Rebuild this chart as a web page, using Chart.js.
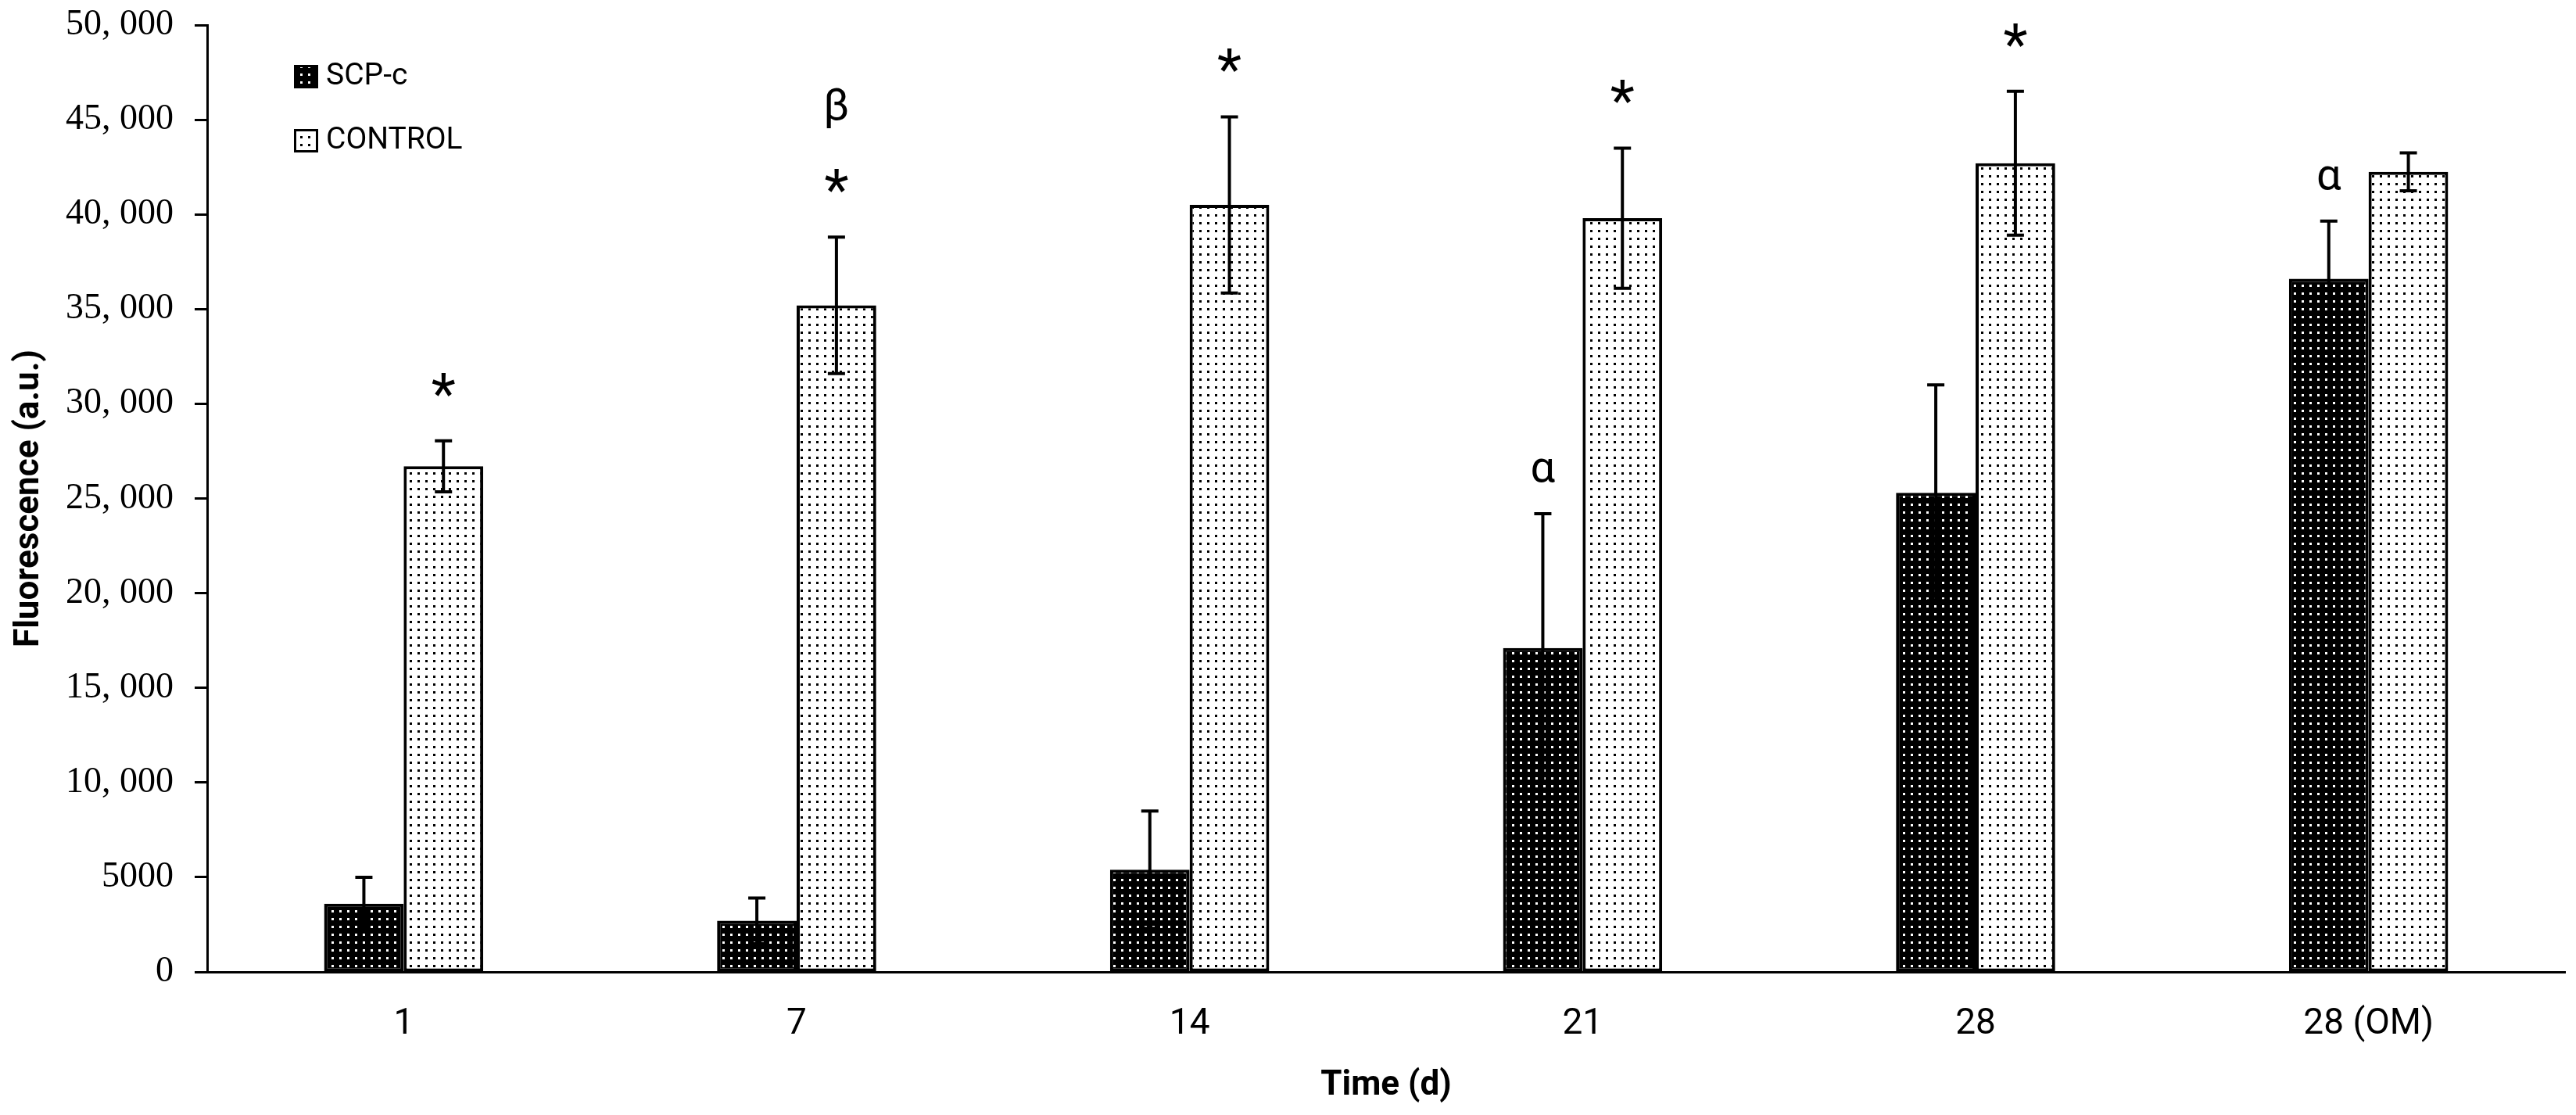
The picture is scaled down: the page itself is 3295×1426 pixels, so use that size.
<!DOCTYPE html>
<html>
<head>
<meta charset="utf-8">
<title>Fluorescence over time</title>
<script src="https://cdn.jsdelivr.net/npm/chart.js@4.4.1/dist/chart.umd.min.js"></script>
<style>
    html, body { margin: 0; padding: 0; background: #fff; }
    #wrap { width: 3295px; height: 1426px; position: relative; }
</style>
</head>
<body>
<div id="wrap"><canvas id="fluoChart"></canvas></div>
<script>
// Data
const categories = ["1", "7", "14", "21", "28", "28 (OM)"];
const scpValues = [3600, 2700, 5400, 17100, 25300, 36600];
const scpErrors = [1400, 1200, 3100, 7100, 5700, 3050];
const controlValues = [26700, 35200, 40500, 39800, 42700, 42250];
const controlErrors = [1350, 3600, 4650, 3700, 3800, 1000];
const yTickLabels = ["0", "5000", "10, 000", "15, 000", "20, 000", "25, 000",
    "30, 000", "35, 000", "40, 000", "45, 000", "50, 000"];

// Significance marks drawn above the bars
const controlStars = ["*", "*", "*", "*", "*", ""];
const controlGreek = ["", "β", "", "", "", ""];
const scpGreek = ["", "", "", "α", "", "α"];

// Dotted fill patterns (dark bars with white dots, light bars with black dots)
function makeDots(bg, dot) {
    const c = document.createElement("canvas");
    c.width = 10;
    c.height = 10;
    const g = c.getContext("2d");
    g.fillStyle = bg;
    g.fillRect(0, 0, 10, 10);
    g.fillStyle = dot;
    g.fillRect(4, 4, 3, 3);
    return document.getElementById("fluoChart").getContext("2d").createPattern(c, "repeat");
}

const scpFill = makeDots("#000", "#fff");
const controlFill = makeDots("#fff", "#000");

// draw a glyph centred on (x, y) using its real ink box
function drawCentered(ctx, text, x, y) {
    const m = ctx.measureText(text);
    const h = m.actualBoundingBoxAscent + m.actualBoundingBoxDescent;
    ctx.textBaseline = "alphabetic";
    ctx.textAlign = "center";
    ctx.fillText(text, x, y + h / 2 - m.actualBoundingBoxDescent);
}

const errorBarPlugin = {
    id: "errorBars",
    afterDatasetsDraw(chart) {
        const ctx = chart.ctx;
        const yScale = chart.scales.y;
        const errs = [scpErrors, controlErrors];
        ctx.save();
        ctx.strokeStyle = "#000";
        ctx.lineWidth = 4;
        chart.data.datasets.forEach((ds, i) => {
            const meta = chart.getDatasetMeta(i);
            meta.data.forEach((bar, j) => {
                const v = ds.data[j];
                const top = yScale.getPixelForValue(v + errs[i][j]);
                const bot = yScale.getPixelForValue(v - errs[i][j]);
                ctx.beginPath();
                ctx.moveTo(bar.x, top);
                ctx.lineTo(bar.x, bot);
                ctx.moveTo(bar.x - 11, top);
                ctx.lineTo(bar.x + 11, top);
                ctx.moveTo(bar.x - 11, bot);
                ctx.lineTo(bar.x + 11, bot);
                ctx.stroke();
            });
        });

        // significance marks
        ctx.fillStyle = "#000";
        const scpMeta = chart.getDatasetMeta(0);
        const ctlMeta = chart.getDatasetMeta(1);
        categories.forEach((cat, j) => {
            const ctlTop = yScale.getPixelForValue(controlValues[j] + controlErrors[j]);
            const starY = ctlTop - 72;
            if (controlStars[j]) {
                ctx.font = "72px Roboto";
                drawCentered(ctx, controlStars[j], ctlMeta.data[j].x, starY);
            }
            if (controlGreek[j]) {
                ctx.font = "56px Roboto";
                drawCentered(ctx, controlGreek[j], ctlMeta.data[j].x, starY - 93);
            }
            if (scpGreek[j]) {
                const scpTop = yScale.getPixelForValue(scpValues[j] + scpErrors[j]);
                ctx.font = "56px Roboto";
                drawCentered(ctx, scpGreek[j], scpMeta.data[j].x, scpTop - 55);
            }
        });
        ctx.restore();
    }
};

// legend sits inside the plot, top left
const legendPlugin = {
    id: "insideLegend",
    afterDraw(chart) {
        const ctx = chart.ctx;
        const area = chart.chartArea;
        const x0 = area.left + 111;
        const rows = [area.top + 51, area.top + 133];
        ctx.save();
        chart.data.datasets.forEach((ds, i) => {
            const y = rows[i];
            ctx.fillStyle = ds.backgroundColor;
            ctx.fillRect(x0, y, 31, 30);
            ctx.strokeStyle = "#000";
            ctx.lineWidth = 3;
            ctx.strokeRect(x0 + 1.5, y + 1.5, 28, 27);
            ctx.fillStyle = "#000";
            ctx.font = "39px Roboto";
            ctx.textAlign = "left";
            ctx.textBaseline = "middle";
            ctx.fillText(ds.label, x0 + 41, y + 15);
        });
        ctx.restore();
    }
};

new Chart(document.getElementById("fluoChart"), {
    type: "bar",
    data: {
        labels: categories,
        datasets: [
            {
                label: "SCP-c",
                data: scpValues,
                backgroundColor: scpFill,
                borderColor: "#000",
                borderWidth: 4,
                borderSkipped: false
            },
            {
                label: "CONTROL",
                data: controlValues,
                backgroundColor: controlFill,
                borderColor: "#000",
                borderWidth: 4,
                borderSkipped: false
            }
        ]
    },
    options: {
        responsive: true,
        maintainAspectRatio: false,
        animation: false,
        devicePixelRatio: 1,
        categoryPercentage: 0.405,
        barPercentage: 1.0,
        layout: { padding: { top: 32, right: 14, left: 0, bottom: 0 } },
        plugins: {
            legend: { display: false },
            tooltip: { enabled: false }
        },
        scales: {
            x: {
                grid: { display: false, drawTicks: false },
                border: { display: true, color: "#000", width: 3 },
                ticks: {
                    color: "#000",
                    padding: 40,
                    font: { family: "Roboto", size: 46 }
                },
                title: {
                    display: true,
                    text: "Time (d)",
                    color: "#000",
                    padding: { top: 0, bottom: 11 },
                    font: { family: "Roboto", size: 44, weight: "bold" }
                },
                afterFit(scale) { scale.height = 183; }
            },
            y: {
                min: 0,
                max: 50000,
                grid: {
                    drawOnChartArea: false,
                    drawTicks: true,
                    tickLength: 16,
                    tickWidth: 3,
                    tickColor: "#000"
                },
                border: { display: true, color: "#000", width: 3 },
                ticks: {
                    stepSize: 5000,
                    color: "#000",
                    padding: 27,
                    font: { family: "Liberation Serif", size: 46 },
                    callback: (value, index) => yTickLabels[index]
                },
                title: {
                    display: true,
                    text: "Fluorescence (a.u.)",
                    color: "#000",
                    padding: { top: 12, bottom: 0 },
                    font: { family: "Roboto", size: 44, weight: "bold" }
                },
                afterFit(scale) {
                    scale.width = 265;
                    scale.paddingTop = 0;
                    scale.paddingBottom = 0;
                }
            }
        }
    },
    plugins: [errorBarPlugin, legendPlugin]
});
</script>
</body>
</html>
